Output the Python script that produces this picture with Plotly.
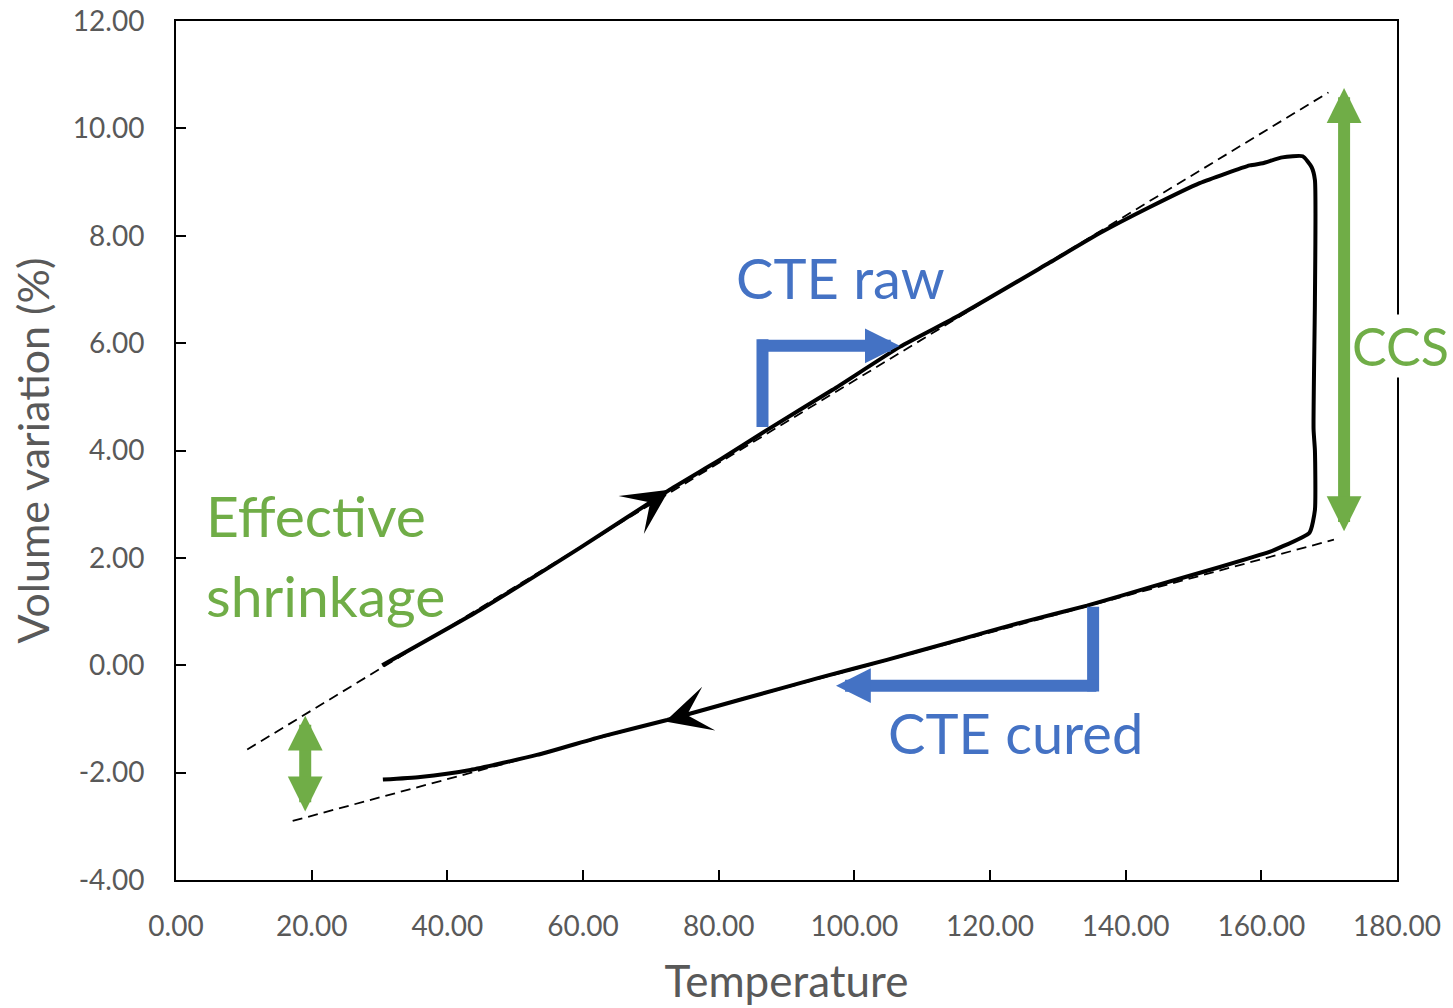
import plotly.graph_objects as go

# Heating branch (raw material): temperature (°C) and volume variation (%)
heat_T = [30.4, 44.8, 59.6, 72.8, 80.6, 87.1, 96.8, 106.7, 115.5, 128.8,
          136.2, 143.5, 150.9, 158.3, 160.2, 163.1, 166.1, 167.4, 167.9]
heat_V = [0.00, 1.03, 2.19, 3.27, 3.86, 4.38, 5.13, 5.93, 6.52, 7.50,
          8.05, 8.53, 8.98, 9.31, 9.35, 9.46, 9.48, 9.28, 9.04]

# Isothermal cure at the top temperature (chemical shrinkage drop)
cure_T = [167.9, 167.9, 167.7, 167.9, 167.9]
cure_V = [9.04, 6.80, 4.40, 4.00, 2.89]

# Cooling branch (cured material)
cool_T = [167.9, 167.1, 162.7, 161.2, 153.9, 144.0, 134.3, 124.4, 114.5,
          104.8, 94.9, 83.8, 72.4, 63.0, 53.2, 43.4, 36.0, 30.5]
cool_V = [2.89, 2.47, 2.19, 2.11, 1.83, 1.47, 1.11, 0.79, 0.44,
          0.10, -0.23, -0.62, -1.02, -1.32, -1.67, -1.95, -2.08, -2.13]

# Linear fits (dashed) of the raw and cured branches
fit_raw_T = [10.5, 169.9]
fit_raw_V = [-1.57, 10.67]
fit_cured_T = [17.2, 170.7]
fit_cured_V = [-2.90, 2.34]

x_ticks = [0, 20, 40, 60, 80, 100, 120, 140, 160, 180]
y_ticks = [-4, -2, 0, 2, 4, 6, 8, 10, 12]
x_tick_labels = [f"{v:.2f}" for v in x_ticks]
y_tick_labels = [f"{v:.2f}" for v in y_ticks]

FONT = "Lato"
GREY = "#595959"
BLUE = "#4472C4"
GREEN = "#70AD47"

fig = go.Figure()

for fx, fy in ((fit_raw_T, fit_raw_V), (fit_cured_T, fit_cured_V)):
    fig.add_trace(go.Scatter(x=fx, y=fy, mode="lines",
                             line=dict(color="black", width=1.8, dash="10px,6px"),
                             hoverinfo="skip", showlegend=False))

fig.add_trace(go.Scatter(x=heat_T + cure_T[1:] + cool_T[1:],
                         y=heat_V + cure_V[1:] + cool_V[1:],
                         mode="lines",
                         line=dict(color="black", width=4, shape="spline", smoothing=0.5),
                         showlegend=False))

annotations = []

# labels drawn first so the arrows sit on top of any label background
annotations.append(dict(x=1.0025, y=0.622, xref="paper", yref="paper", text="CCS",
                        xanchor="center", yanchor="middle",
                        showarrow=False, bgcolor="white", borderpad=0,
                        font=dict(family=FONT, size=52, color=GREEN)))
annotations.append(dict(x=98.0, y=7.22, xref="x", yref="y", text="CTE raw",
                        showarrow=False, font=dict(family=FONT, size=56, color=BLUE)))
annotations.append(dict(x=123.7, y=-1.25, xref="x", yref="y", text="CTE cured",
                        showarrow=False, font=dict(family=FONT, size=56, color=BLUE)))
annotations.append(dict(x=4.1, y=2.8, xref="x", yref="y", text="Effective",
                        xanchor="left", showarrow=False,
                        font=dict(family=FONT, size=57, color=GREEN)))
annotations.append(dict(x=4.1, y=1.31, xref="x", yref="y", text="shrinkage",
                        xanchor="left", showarrow=False,
                        font=dict(family=FONT, size=57, color=GREEN)))

# direction arrows on the curve
annotations.append(dict(x=72.7, y=3.27, ax=62.0, ay=2.37, xref="x", yref="y",
                        axref="x", ayref="y", showarrow=True, arrowhead=3,
                        arrowwidth=2, arrowsize=3.8, arrowcolor="black", text=""))
annotations.append(dict(x=72.1, y=-1.05, ax=84.0, ay=-0.60, xref="x", yref="y",
                        axref="x", ayref="y", showarrow=True, arrowhead=3,
                        arrowwidth=2, arrowsize=3.8, arrowcolor="black", text=""))

# CTE raw bracket
annotations.append(dict(x=106.7, y=5.95, ax=85.6, ay=5.95, xref="x", yref="y",
                        axref="x", ayref="y", showarrow=True, arrowhead=2,
                        arrowwidth=12, arrowsize=0.58, arrowcolor=BLUE, text=""))
# CTE cured bracket
annotations.append(dict(x=97.3, y=-0.38, ax=135.9, ay=-0.38, xref="x", yref="y",
                        axref="x", ayref="y", showarrow=True, arrowhead=2,
                        arrowwidth=12, arrowsize=0.58, arrowcolor=BLUE, text=""))

# CCS double arrow
annotations.append(dict(x=172.2, y=10.75, ax=172.2, ay=2.47, xref="x", yref="y",
                        axref="x", ayref="y", showarrow=True, arrowside="end+start",
                        arrowhead=2, startarrowhead=2, arrowwidth=12,
                        arrowsize=0.58, startarrowsize=0.58, arrowcolor=GREEN, text=""))
# Effective shrinkage double arrow
annotations.append(dict(x=19.05, y=-0.94, ax=19.05, ay=-2.75, xref="x", yref="y",
                        axref="x", ayref="y", showarrow=True, arrowside="end+start",
                        arrowhead=2, startarrowhead=2, arrowwidth=12,
                        arrowsize=0.58, startarrowsize=0.58, arrowcolor=GREEN, text=""))

shapes = [
    dict(type="line", xref="x", yref="y", x0=86.46, x1=86.46, y0=4.44, y1=6.07,
         line=dict(color=BLUE, width=12)),
    dict(type="line", xref="x", yref="y", x0=135.2, x1=135.2, y0=1.09, y1=-0.49,
         line=dict(color=BLUE, width=12)),
]

axis_common = dict(showgrid=False, zeroline=False, showline=True, linecolor="black",
                   linewidth=2, mirror=True, ticks="inside", ticklen=10, tickwidth=2,
                   tickcolor="black", automargin=False,
                   tickfont=dict(family=FONT, size=28, color=GREY))

fig.update_layout(
    width=1453, height=1008,
    margin=dict(l=176, r=56, t=21, b=128),
    paper_bgcolor="white", plot_bgcolor="white",
    showlegend=False,
    xaxis=dict(range=[0, 180], tickvals=x_ticks, ticktext=x_tick_labels,
               ticklabelstandoff=20,
               title=dict(text="Temperature", standoff=26,
                          font=dict(family=FONT, size=44, color=GREY)),
               **axis_common),
    yaxis=dict(range=[-4, 12], tickvals=y_ticks, ticktext=y_tick_labels,
               ticklabelstandoff=24,
               title=dict(text="Volume variation (%)", standoff=10,
                          font=dict(family=FONT, size=43, color=GREY)),
               **axis_common),
    annotations=annotations,
    shapes=shapes,
)

fig.write_html("out.html")
